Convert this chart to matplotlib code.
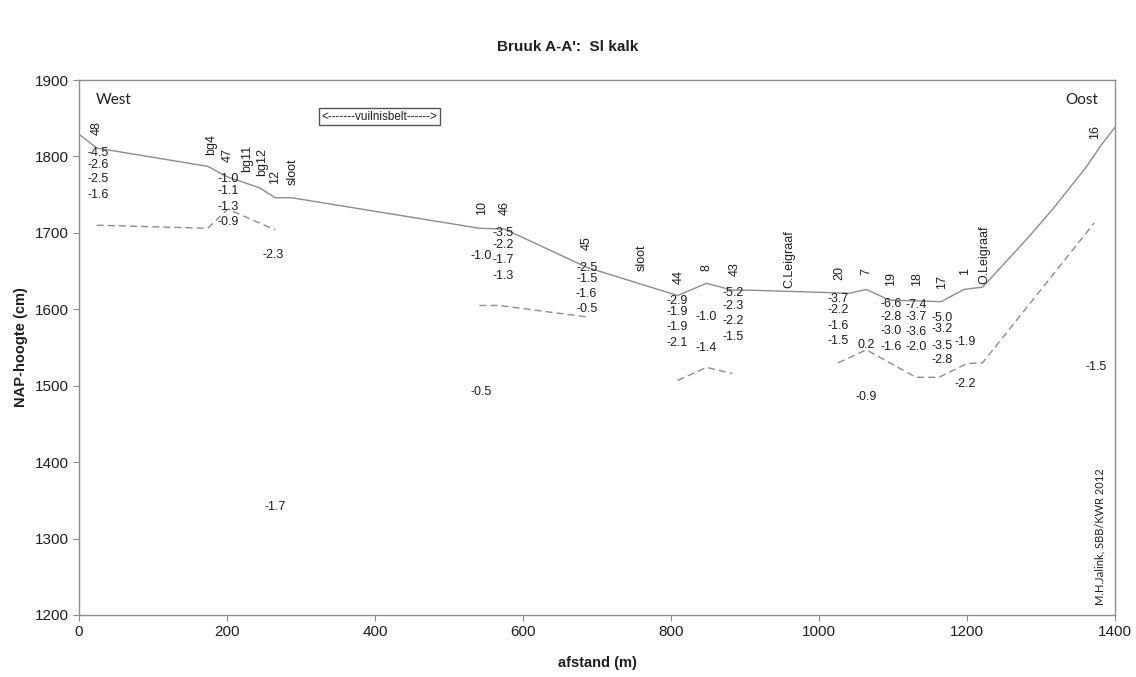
import matplotlib
matplotlib.use("Agg")
import matplotlib.pyplot as plt

plt.rcParams['font.family'] = ['Liberation Sans', 'DejaVu Sans']

# maaiveld (surface) profile
surf_x = [0, 24, 174, 201, 244, 265, 287, 541, 575, 686, 809, 848, 883, 906,
          1041, 1064, 1095, 1165, 1196, 1221, 1280, 1315, 1361, 1383, 1400]
surf_y = [1829, 1811, 1787, 1773, 1759, 1746, 1746, 1706, 1705, 1655, 1618, 1634,
          1625, 1625, 1621, 1626, 1612, 1610, 1626, 1629, 1691, 1730, 1786, 1817, 1838]

# dashed profile, in separate pieces
dash1_x = [24, 174, 201, 265]
dash1_y = [1710, 1706, 1731, 1704]
dash2_x = [541, 568, 686]
dash2_y = [1605, 1605, 1590]
dash3_x = [809, 848, 883]
dash3_y = [1507, 1524, 1516]
dash4_x = [1026, 1064, 1131, 1162, 1200, 1221, 1372]
dash4_y = [1530, 1547, 1511, 1511, 1529, 1530, 1713]

# borehole / point names (rotated)
name_txt = ["48", "bg4", "47", "bg11", "bg12", "12", "sloot", "10", "46", "45", "sloot",
            "44", "8", "43", "C.Leigraaf", "20", "7", "19", "18", "17", "1", "O.Leigraaf", "16"]
name_x = [24, 178, 201, 227, 247, 265, 289, 545, 575, 686, 761,
          810, 848, 886, 960, 1027, 1064, 1098, 1133, 1166, 1197, 1223, 1373]
name_y = [1837, 1815, 1802, 1798, 1793, 1773, 1780, 1732, 1732, 1687, 1668,
          1642, 1655, 1653, 1666, 1647, 1649, 1640, 1640, 1636, 1649, 1671, 1832]

# measured values
val_txt = ["-4.5", "-2.6", "-2.5", "-1.6",
           "-1.0", "-1.1", "-1.3", "-0.9", "-2.3", "-1.7",
           "-3.5", "-2.2", "-1.7", "-1.3", "-1.0", "-0.5",
           "-2.5", "-1.5", "-1.6", "-0.5",
           "-2.9", "-1.9", "-1.9", "-2.1",
           "-1.0", "-1.4",
           "-5.2", "-2.3", "-2.2", "-1.5",
           "-3.7", "-2.2", "-1.6", "-1.5",
           "0.2", "-0.9",
           "-6.6", "-2.8", "-3.0", "-1.6",
           "-7.4", "-3.7", "-3.6", "-2.0",
           "-5.0", "-3.2", "-3.5", "-2.8",
           "-1.9", "-2.2",
           "-1.5"]
val_x = [26, 26, 26, 26,
         201, 201, 201, 201, 263, 265,
         573, 573, 573, 573, 544, 544,
         686, 686, 686, 686,
         809, 809, 809, 809,
         848, 848,
         884, 884, 884, 884,
         1026, 1026, 1026, 1026,
         1064, 1064,
         1098, 1098, 1098, 1098,
         1131, 1131, 1131, 1131,
         1166, 1166, 1166, 1166,
         1197, 1197,
         1374]
val_y = [1804, 1789, 1770, 1749,
         1770, 1755, 1734, 1714, 1671, 1341,
         1700, 1684, 1664, 1643, 1670, 1492,
         1654, 1640, 1620, 1600,
         1611, 1596, 1577, 1556,
         1590, 1549,
         1621, 1604, 1585, 1564,
         1613, 1599, 1578, 1558,
         1553, 1485,
         1607, 1590, 1571, 1551,
         1606, 1590, 1570, 1551,
         1588, 1574, 1552, 1533,
         1557, 1502,
         1524]

gray = '#8c8c8c'
txt = '#1f1f1f'

fig = plt.figure(figsize=(11.36, 6.77), dpi=100)
ax = fig.add_axes([79 / 1136, 1 - 615 / 677, (1115 - 79) / 1136, (615 - 80) / 677])

ax.plot(surf_x, surf_y, color=gray, lw=1.0)
for dx, dy in [(dash1_x, dash1_y), (dash2_x, dash2_y), (dash3_x, dash3_y), (dash4_x, dash4_y)]:
    ax.plot(dx, dy, color=gray, lw=1.0, dashes=(5, 3))

for t, x, y in zip(name_txt, name_x, name_y):
    ax.text(x, y, t, rotation=90, ha='center', va='center', fontsize=9, color=txt)
for t, x, y in zip(val_txt, val_x, val_y):
    ax.text(x, y, t, ha='center', va='center', fontsize=9, color=txt)

ax.text(0.016, 0.975, "West", transform=ax.transAxes, ha='left', va='top',
        fontsize=11, family='Lato', color=txt)
ax.text(0.984, 0.975, "Oost", transform=ax.transAxes, ha='right', va='top',
        fontsize=11, family='Lato', color=txt)
ax.text(406, 1852, "<-------vuilnisbelt------>", ha='center', va='center', fontsize=8.5,
        color=txt, bbox=dict(boxstyle='square,pad=0.2', fc='white', ec='#555555', lw=1))
ax.text(1380, 1302, "M.H.Jalink, SBB/KWR 2012", rotation=90, ha='center', va='center',
        fontsize=8, family='Lato', color=txt)

ax.set_xlim(0, 1400)
ax.set_ylim(1200, 1900)
ax.set_xticks(range(0, 1401, 200))
ax.set_yticks(range(1200, 1901, 100))
ax.tick_params(direction='out', length=4, color=gray, labelsize=11, labelcolor=txt)
for s in ax.spines.values():
    s.set_color(gray)
    s.set_linewidth(1.0)

ax.set_xlabel("afstand (m)", fontsize=10.5, fontweight='bold', color=txt, labelpad=12)
ax.set_ylabel("NAP-hoogte (cm)", fontsize=10.5, fontweight='bold', color=txt)
ax.yaxis.set_label_coords(-0.049, 0.5)
fig.text(0.5, 1 - 47 / 677, "Bruuk A-A':  Sl kalk", ha='center', va='center',
         fontsize=11, fontweight='bold', color=txt)

fig.savefig("out.png", dpi=100)
